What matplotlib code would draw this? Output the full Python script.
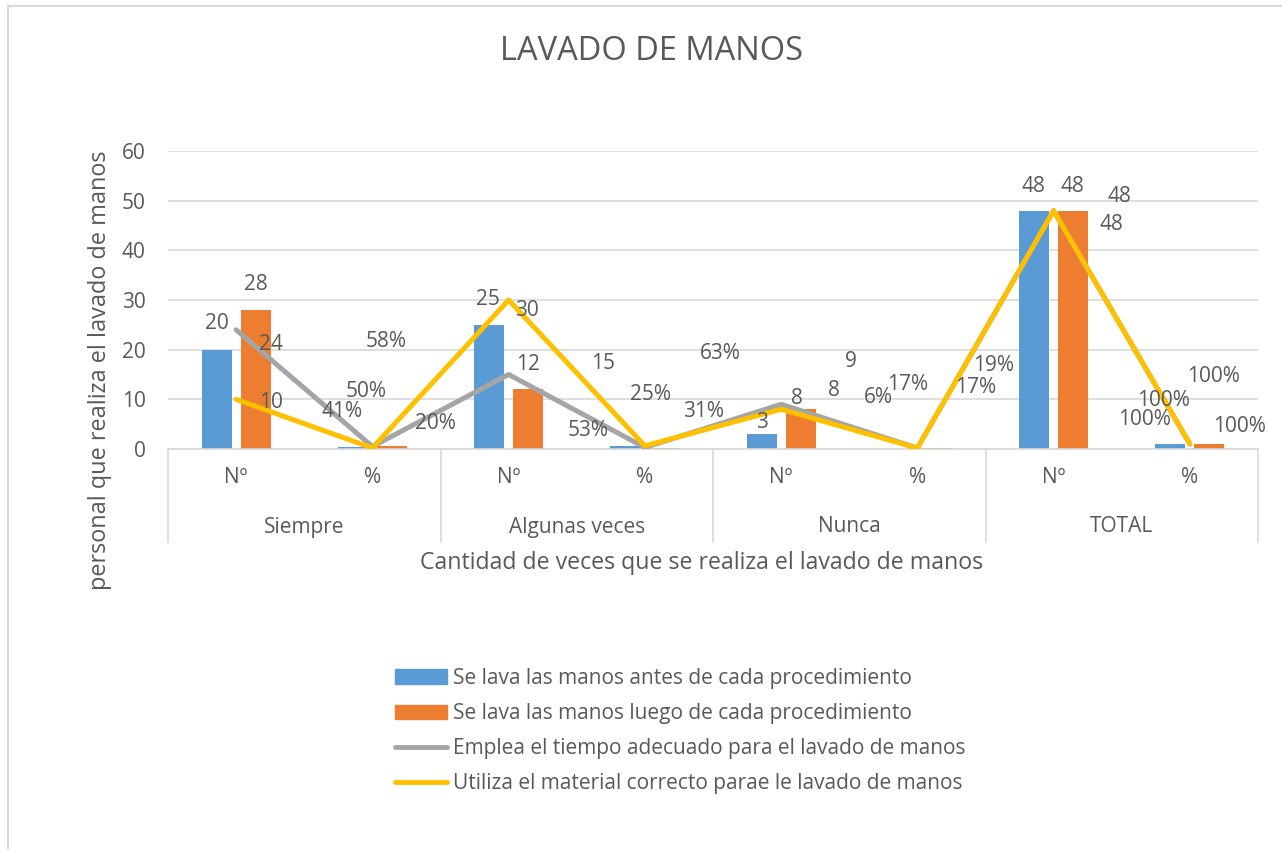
import matplotlib.pyplot as plt
from matplotlib.lines import Line2D
from matplotlib.patches import Patch
import numpy as np

plt.rcParams['font.family'] = ['Open Sans', 'DejaVu Sans']

# data
grupos = ['Siempre', 'Algunas veces', 'Nunca', 'TOTAL']
sub = ['Nº', '%']
antes = [20, 0.41, 25, 0.53, 3, 0.06, 48, 1.00]
luego = [28, 0.58, 12, 0.25, 8, 0.17, 48, 1.00]
tiempo = [24, 0.50, 15, 0.31, 9, 0.19, 48, 1.00]
material = [10, 0.20, 30, 0.63, 8, 0.17, 48, 1.00]

nombres = ['Se lava las manos antes de cada procedimiento',
           'Se lava las manos luego de cada procedimiento',
           'Emplea el tiempo adecuado para el lavado de manos',
           'Utiliza el material correcto parae le lavado de manos']

# label offsets in pixels (labels were moved around in the original)
off_antes = [(0, 26), (-11, 35), (-1, 25), (-37, 16), (0, 12), (-20, 51), (-1, 24), (-26, 25)]
off_luego = [(0, 25), (-6, 105), (0, 25), (-14, 53), (-4, 11), (-29, 64), (-1, 24), (30, 18)]
off_tiempo = [(35, -15), (-6, 55), (94, 11), (59, 36), (70, 43), (76, 83), (66, 14), (24, 68)]
off_material = [(35, -3), (63, 25), (18, -10), (75, 92), (53, 19), (58, 61), (58, -14), (-26, 44)]

azul = '#5B9BD5'
naranja = '#ED7D31'
gris = '#A5A5A5'
amarillo = '#FFC000'
txt = '#595959'
lin = '#D9D9D9'

cats = [s for g in grupos for s in sub]
x = np.arange(len(cats))
w = 0.22
d = 0.143


def etiqueta(i, v):
    if cats[i] == '%':
        return f'{v:.0%}'
    return f'{v:.0f}'


fig = plt.figure(figsize=(12.82, 8.49), dpi=100)
ax = fig.add_axes([168 / 1282, 1 - 449 / 849, 1090 / 1282, 298 / 849])

ax.bar(x - d, antes, w, color=azul, zorder=2)
ax.bar(x + d, luego, w, color=naranja, zorder=2)
ax.plot(x, tiempo, color=gris, lw=3.6, solid_joinstyle='round', solid_capstyle='round', zorder=3)
ax.plot(x, material, color=amarillo, lw=3.6, solid_joinstyle='round', solid_capstyle='round', zorder=4)

for serie, offs, dx in [(antes, off_antes, -d), (luego, off_luego, d),
                        (tiempo, off_tiempo, 0), (material, off_material, 0)]:
    for i, v in enumerate(serie):
        ax.annotate(etiqueta(i, v), (x[i] + dx, v), xytext=offs[i], textcoords='offset pixels',
                    ha='center', va='center', fontsize=15, color=txt, zorder=5)

ax.set_xlim(-0.5, len(cats) - 0.5)
ax.set_ylim(0, 60)
ax.set_yticks(range(0, 61, 10))
ax.grid(axis='y', color=lin, lw=1.2, zorder=0)
ax.set_axisbelow(True)
for s in ['top', 'right', 'left']:
    ax.spines[s].set_visible(False)
ax.spines['bottom'].set_color(lin)
ax.spines['bottom'].set_linewidth(1.2)
ax.tick_params(axis='y', length=0, pad=16, labelsize=15, labelcolor=txt)
ax.set_xticks(x)
ax.set_xticklabels(cats)
ax.tick_params(axis='x', length=0, pad=13, labelsize=15, labelcolor=txt)

# second level of the category axis
tr = ax.get_xaxis_transform()
for k in range(len(grupos) + 1):
    ax.add_line(Line2D([2 * k - 0.5, 2 * k - 0.5], [0, -93 / 298], transform=tr,
                       color=lin, lw=1.2, clip_on=False))
for k, g in enumerate(grupos):
    ax.text(2 * k + 0.5, -78 / 298, g, transform=tr, ha='center', va='center',
            fontsize=15, color=txt)

fig.text(702 / 1282, 1 - 563 / 849, 'Cantidad de veces que se realiza el lavado de manos',
         ha='center', va='center', fontsize=16.7, color=txt)
fig.text(100 / 1282, 1 - 370 / 849, 'personal que realiza el lavado de manos',
         ha='center', va='center', rotation=90, fontsize=16.9, color=txt)
fig.text(651 / 1282, 1 - 51 / 849, 'LAVADO DE MANOS', ha='center', va='center',
         fontsize=23.5, color=txt)

handles = [Patch(color=azul), Patch(color=naranja),
           Line2D([], [], color=gris, lw=3.5, solid_capstyle='round'),
           Line2D([], [], color=amarillo, lw=3.5, solid_capstyle='round')]
fig.legend(handles, nombres, loc='upper left', bbox_to_anchor=(395 / 1282, 1 - 668 / 849),
           frameon=False, fontsize=15, handlelength=2.5, handletextpad=0.28,
           labelspacing=0.68, borderpad=0, borderaxespad=0, labelcolor=txt)

# outer chart border
fig.add_artist(Line2D([8 / 1282, 8 / 1282], [0, 1 - 6 / 849], transform=fig.transFigure,
                      color=lin, lw=1.5))
fig.add_artist(Line2D([8 / 1282, 1], [1 - 6 / 849, 1 - 6 / 849], transform=fig.transFigure,
                      color=lin, lw=1.5))

fig.savefig('out.png', dpi=100)
